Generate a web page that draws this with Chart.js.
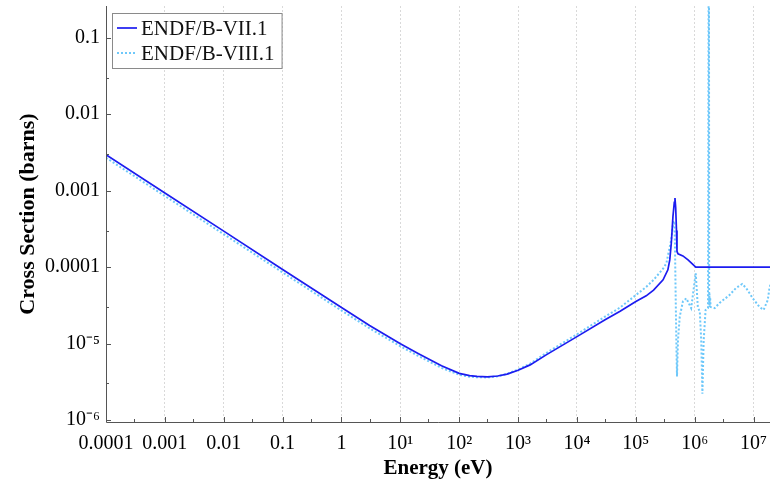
<!DOCTYPE html>
<html>
<head>
<meta charset="utf-8">
<script src="https://cdn.jsdelivr.net/npm/chart.js@4/dist/chart.umd.min.js"></script>
<style>
  html, body { margin: 0; padding: 0; background: #ffffff; }
  #wrap { width: 770px; height: 484px; }
</style>
</head>
<body>
<div id="wrap"><canvas id="c" width="770" height="484"></canvas></div>
<script>
// ---- data ----
const seriesNames = ['ENDF/B-VII.1', 'ENDF/B-VIII.1'];

const energyVII = [1e-4, 1e-3, 1e-2, 1e-1, 1, 3, 10, 20, 50, 100, 150, 200, 300, 450, 650, 1000, 1600, 3000, 1e4, 3e4, 5.4e4,
  1e5, 1.5e5, 2e5, 2.9e5, 3.5e5, 3.77e5, 4.0e5, 4.27e5, 4.5e5, 4.62e5, 4.75e5, 4.9e5, 5.0e5, 5.2e5, 6.3e5, 7.7e5, 9.1e5, 1.04e6, 2e7];
const sigmaVII = [2.95e-3, 9.3e-4, 2.95e-4, 9.3e-5, 2.95e-5, 1.72e-5, 9.9e-6, 7.4e-6, 5.1e-6, 4.07e-6, 3.8e-6, 3.72e-6, 3.67e-6, 3.76e-6, 3.98e-6, 4.47e-6, 5.25e-6, 7.1e-6, 1.23e-5, 2.05e-5, 2.65e-5,
  3.55e-5, 4.2e-5, 5.0e-5, 6.8e-5, 9.2e-5, 1.24e-4, 2.05e-4, 4.6e-4, 7.0e-4, 8.0e-4, 6.0e-4, 3.0e-4, 1.6e-4, 1.49e-4, 1.4e-4, 1.24e-4, 1.1e-4, 1.0e-4, 1.0e-4];

const energyVIII = [1e-4, 1e-3, 1e-2, 1e-1, 1, 3, 10, 20, 50, 100, 150, 200, 300, 450, 650, 1000, 1600, 3000, 1e4, 3e4, 5.4e4,
  1e5, 1.5e5, 2e5, 2.9e5, 3.3e5, 4.0e5, 4.3e5, 4.5e5, 4.62e5, 4.75e5, 4.9e5, 5.0e5, 5.2e5, 5.57e5, 6.3e5, 7.2e5, 8.7e5,
  1.04e6, 1.13e6, 1.22e6, 1.29e6, 1.35e6, 1.42e6, 1.53e6, 1.68e6, 1.73e6, 1.745e6, 1.76e6, 1.78e6, 1.80e6, 1.83e6, 1.86e6,
  2.18e6, 2.65e6, 3.9e6, 5.0e6, 6.4e6, 7.5e6, 9.7e6, 1.26e7, 1.48e7, 1.74e7, 1.86e7, 2e7];
const sigmaVIII = [2.69e-3, 8.5e-4, 2.69e-4, 8.5e-5, 2.7e-5, 1.58e-5, 9.2e-6, 6.9e-6, 4.8e-6, 3.9e-6, 3.68e-6, 3.62e-6, 3.6e-6, 3.72e-6, 4.0e-6, 4.56e-6, 5.45e-6, 7.5e-6, 1.32e-5, 2.25e-5, 2.95e-5,
  4.3e-5, 5.5e-5, 6.8e-5, 9.5e-5, 1.12e-4, 2.3e-4, 3.8e-4, 4.0e-4, 2.0e-4, 4.0e-5, 8.0e-6, 3.7e-6, 1.11e-5, 2.25e-5, 3.55e-5, 3.9e-5, 2.9e-5,
  8.3e-5, 3.0e-5, 2.6e-5, 1.1e-5, 2.2e-6, 1.1e-5, 2.75e-5, 2.9e-5, 2.0, 2.0, 3.2e-5, 4.5e-5, 3.0e-5, 4.0e-5, 3.0e-5,
  2.9e-5, 3.4e-5, 4.3e-5, 5.3e-5, 6.0e-5, 5.3e-5, 3.9e-5, 3.0e-5, 2.75e-5, 3.7e-5, 5.3e-5, 6.5e-5];

const xTickValues = [1e-4, 1e-3, 1e-2, 1e-1, 1, 1e1, 1e2, 1e3, 1e4, 1e5, 1e6, 1e7];
const xTickLabels = ['0.0001', '0.001', '0.01', '0.1', '1', '10¹', '10²', '10³', '10⁴', '10⁵', '10⁶', '10⁷'];
const yTickValues = [1e-6, 1e-5, 1e-4, 1e-3, 1e-2, 1e-1];
const yTickLabels = ['10⁻⁶', '10⁻⁵', '0.0001', '0.001', '0.01', '0.1'];

const xMin = 1e-4, xMax = 1.9e7;
const yMin = 9.4e-7, yMax = 0.26;

// ---- styling ----
const SERIF = "'Liberation Serif', 'Times New Roman', serif";
const colVII = 'rgb(28,28,240)';
const colVIII = 'rgb(110,200,250)';

function toPoints(xs, ys) { return xs.map((x, i) => ({ x: x, y: ys[i] })); }
function noPad(scale) { scale.paddingTop = 0; scale.paddingBottom = 0; scale.paddingLeft = 0; scale.paddingRight = 0; }

const axisPlugin = {
  id: 'axisPlugin',
  afterDatasetsDraw(chart) {
    const ctx = chart.ctx;
    const a = chart.chartArea;
    const xs = chart.scales.x, ys = chart.scales.y;
    ctx.save();
    ctx.strokeStyle = '#555';
    ctx.lineWidth = 1;
    ctx.beginPath();
    ctx.moveTo(a.left + 0.5, a.top);
    ctx.lineTo(a.left + 0.5, a.bottom + 0.5);
    ctx.lineTo(a.right, a.bottom + 0.5);
    ctx.stroke();
    // tick marks pointing into the plot
    ctx.beginPath();
    const xLo = Math.floor(Math.log10(xMin)), xHi = Math.ceil(Math.log10(xMax));
    for (let e = xLo; e <= xHi; e++) {
      for (const m of [1, 3]) {
        const v = m * Math.pow(10, e);
        if (v < xMin || v > xMax) continue;
        const px = Math.round(xs.getPixelForValue(v)) + 0.5;
        const len = m === 1 ? 5 : 3;
        ctx.moveTo(px, a.bottom);
        ctx.lineTo(px, a.bottom - len);
      }
    }
    const yLo = Math.floor(Math.log10(yMin)), yHi = Math.ceil(Math.log10(yMax));
    for (let e = yLo; e <= yHi; e++) {
      for (const m of [1, 3]) {
        const v = m * Math.pow(10, e);
        if (v < yMin || v > yMax) continue;
        const py = Math.round(ys.getPixelForValue(v)) + 0.5;
        const len = m === 1 ? 5 : 3;
        ctx.moveTo(a.left, py);
        ctx.lineTo(a.left + len, py);
      }
    }
    ctx.stroke();
    ctx.restore();
  }
};

const legendPlugin = {
  id: 'boxLegend',
  afterDraw(chart) {
    const ctx = chart.ctx;
    const a = chart.chartArea;
    const ds = chart.data.datasets;
    ctx.save();
    ctx.font = '21px ' + SERIF;
    let tw = 0;
    ds.forEach(d => { tw = Math.max(tw, ctx.measureText(d.label).width); });
    const bx = a.left + 6, by = a.top + 7;
    const rowH = 25;
    const bw = 5 + 20 + 4 + tw + 7;
    const bh = rowH * ds.length + 5;
    ctx.fillStyle = '#ffffff';
    ctx.fillRect(bx, by, bw, bh);
    ctx.strokeStyle = '#8a8a8a';
    ctx.lineWidth = 1;
    ctx.strokeRect(bx + 0.5, by + 0.5, bw, bh);
    ds.forEach((d, i) => {
      const cy = by + 15 + i * rowH;
      ctx.beginPath();
      ctx.strokeStyle = d.borderColor;
      ctx.lineWidth = d.borderWidth;
      ctx.setLineDash(d.borderDash || []);
      ctx.moveTo(bx + 5, cy);
      ctx.lineTo(bx + 25, cy);
      ctx.stroke();
      ctx.setLineDash([]);
      ctx.fillStyle = '#111';
      ctx.textBaseline = 'middle';
      ctx.textAlign = 'left';
      ctx.fillText(d.label, bx + 29, cy + 1);
    });
    ctx.restore();
  }
};

new Chart(document.getElementById('c'), {
  type: 'line',
  data: {
    datasets: [
      {
        label: seriesNames[0],
        data: toPoints(energyVII, sigmaVII),
        borderColor: colVII,
        borderWidth: 1.7,
        pointRadius: 0,
        tension: 0,
        fill: false,
        order: 0
      },
      {
        label: seriesNames[1],
        data: toPoints(energyVIII, sigmaVIII),
        borderColor: colVIII,
        borderWidth: 2,
        borderDash: [2, 2],
        pointRadius: 0,
        tension: 0,
        fill: false,
        order: 1
      }
    ]
  },
  options: {
    responsive: false,
    animation: false,
    layout: { padding: { top: 6, right: 0, left: 0, bottom: 0 } },
    plugins: {
      legend: { display: false },
      tooltip: { enabled: false }
    },
    scales: {
      x: {
        type: 'logarithmic',
        min: xMin,
        max: xMax,
        afterBuildTicks(scale) { scale.ticks = xTickValues.map(v => ({ value: v })); },
        afterFit(scale) { scale.height = 62; noPad(scale); },
        ticks: {
          autoSkip: false,
          maxRotation: 0,
          minRotation: 0,
          padding: 10,
          color: '#000',
          font: { family: SERIF, size: 20 },
          callback: (v, i) => xTickLabels[i]
        },
        grid: { display: true, color: '#d9d9d9', lineWidth: 1, drawTicks: false },
        border: { display: false, dash: [2, 2] },
        title: {
          display: true,
          text: 'Energy (eV)',
          color: '#000',
          font: { family: SERIF, size: 21, weight: 'bold' },
          padding: { top: 0, bottom: 3 }
        }
      },
      y: {
        type: 'logarithmic',
        min: yMin,
        max: yMax,
        afterBuildTicks(scale) { scale.ticks = yTickValues.map(v => ({ value: v })); },
        afterFit(scale) { scale.width = 106; noPad(scale); },
        ticks: {
          autoSkip: false,
          padding: 6,
          color: '#000',
          font: { family: SERIF, size: 20 },
          callback: (v, i) => yTickLabels[i]
        },
        grid: { display: false, drawTicks: false },
        border: { display: false },
        title: {
          display: true,
          text: 'Cross Section (barns)',
          color: '#000',
          font: { family: SERIF, size: 22, weight: 'bold' },
          padding: { top: 15, bottom: 0 }
        }
      }
    }
  },
  plugins: [axisPlugin, legendPlugin]
});
</script>
</body>
</html>
